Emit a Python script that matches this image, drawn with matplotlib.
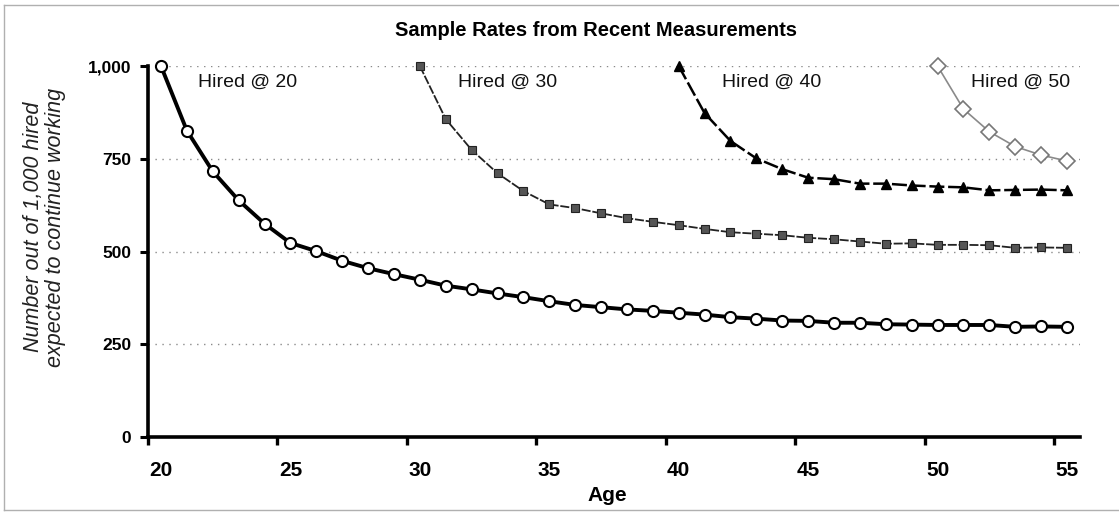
import matplotlib
matplotlib.use("Agg")
import matplotlib.pyplot as plt
from matplotlib.lines import Line2D
import numpy as np

plt.rcParams['font.family'] = ['Liberation Sans', 'DejaVu Sans']

ages_20 = list(range(20, 56))
hired_20 = [1000, 826, 716, 638, 575, 523, 501, 475, 455, 439, 424, 408,
            398, 387, 377, 366, 356, 350, 344, 340, 335, 330, 323, 319,
            314, 313, 308, 308, 304, 303, 302, 302, 302, 297, 298, 297]

ages_30 = list(range(30, 56))
hired_30 = [1000, 857, 774, 711, 663, 627, 617, 603, 590, 580, 571, 561,
            552, 548, 544, 537, 533, 527, 521, 522, 518, 518, 517, 510,
            511, 510]

ages_40 = list(range(40, 56))
hired_40 = [1000, 873, 798, 751, 722, 699, 695, 683, 683, 678, 675, 673,
            665, 666, 667, 665]

ages_50 = list(range(50, 56))
hired_50 = [1000, 884, 823, 783, 760, 744]

label_ages = [20, 25, 30, 35, 40, 45, 50, 55]
y_ticks = [0, 250, 500, 750, 1000]
series_labels = ["Hired @ 20", "Hired @ 30", "Hired @ 40", "Hired @ 50"]
label_x = [21.43, 31.47, 41.66, 51.28]


def main():
    fig = plt.figure(figsize=(11.19, 5.2), dpi=100)
    ax = fig.add_axes([0.1323, 0.1596, 0.8328, 0.7134])

    for v in y_ticks[1:]:
        ax.axhline(v, color='#8a8a8a', lw=1.0, ls=(0, (1, 4)), zorder=1)

    ax.plot(ages_20, hired_20, color='black', lw=2.8, marker='o', ms=8,
            mfc='white', mec='black', mew=1.5, clip_on=False, zorder=5)
    ax.plot(ages_30, hired_30, color='#222222', lw=1.3, ls=(0, (5, 1)),
            marker='s', ms=5.5, mfc='#555555', mec='#222222', mew=0.8,
            clip_on=False, zorder=4)
    ax.plot(ages_40, hired_40, color='black', lw=1.8, ls=(0, (6, 1.5)),
            marker='^', ms=6.5, mfc='black', mec='black',
            clip_on=False, zorder=4)
    ax.plot(ages_50, hired_50, color='#8a8a8a', lw=1.2, marker='D', ms=8,
            mfc='white', mec='#777777', mew=1.2, clip_on=False, zorder=4)

    for x, txt in zip(label_x, series_labels):
        ax.text(x, 955, txt, fontsize=14, ha='left', va='center', color='#111111')

    ax.set_xlim(19.5, 55.5)
    ax.set_ylim(0, 1000)

    for s in ['top', 'right']:
        ax.spines[s].set_visible(False)
    for s in ['left', 'bottom']:
        ax.spines[s].set_linewidth(2.6)
        ax.spines[s].set_color('black')

    # ticks sit on category boundaries, labels on category centres
    ax.set_xticks([a - 0.5 for a in label_ages])
    ax.set_xticklabels([])
    ax.set_xticks(label_ages, minor=True)
    ax.set_xticklabels([str(a) for a in label_ages], minor=True,
                       fontsize=15, fontweight='bold')
    ax.tick_params(axis='x', which='major', direction='out', length=6, width=2.4)
    ax.tick_params(axis='x', which='minor', length=0, pad=17)

    ax.set_yticks(y_ticks)
    ax.set_yticklabels([f"{v:,}" for v in y_ticks], fontsize=12.5, fontweight='bold')
    ax.tick_params(axis='y', direction='out', length=6, width=2.2, pad=6)

    fig.text(0.533, 0.942, "Sample Rates from Recent Measurements",
             fontsize=14.5, fontweight='bold', ha='center', va='center')
    fig.text(0.543, 0.048, "Age", fontsize=15, fontweight='bold',
             ha='center', va='center')
    fig.text(0.04, 0.563, "Number out of 1,000 hired\nexpected to continue working",
             fontsize=15.5, style='italic', rotation=90, ha='center', va='center',
             linespacing=1.05, color='#222222')

    # scanned page frame
    for xs, ys in [([0.004, 0.004], [0.019, 0.99]),
                   ([0.004, 1.0], [0.99, 0.99]),
                   ([0.004, 1.0], [0.019, 0.019])]:
        fig.add_artist(Line2D(xs, ys, color='#b0b0b0', lw=1.0))

    fig.savefig("out.png", dpi=100)
    plt.close(fig)


if __name__ == "__main__":
    main()
